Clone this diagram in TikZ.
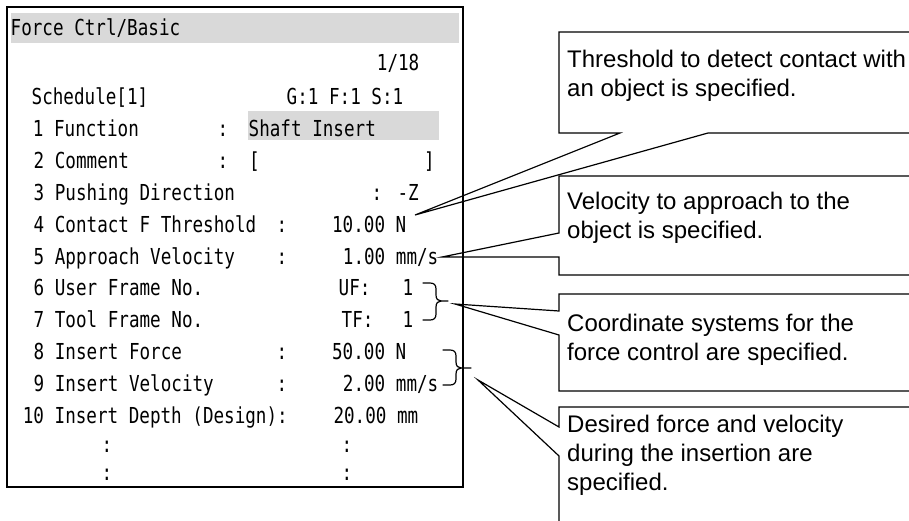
\documentclass[tikz,border=0pt]{standalone}
\usepackage{fontspec}
\newfontfamily\scrfont{DejaVu Sans Mono}[FakeStretch=0.80]
\newfontfamily\notefont{Liberation Sans}
\definecolor{hdrgray}{RGB}{217,217,217}

\begin{document}
\begin{tikzpicture}[x=1pt,y=-1pt,
  scr/.style={inner sep=0pt,anchor=base west,font=\scrfont\fontsize{22}{26}\selectfont},
  scrR/.style={scr,anchor=base east},
  scrC/.style={scr,anchor=base},
  note/.style={inner sep=0pt,anchor=base west,font=\notefont\fontsize{24}{29}\selectfont},
  callout/.style={line width=1.2pt,line join=miter},
  brace/.style={line width=1.2pt,line cap=round}]
\useasboundingbox (0,0) rectangle (909,521);
\clip (0,0) rectangle (909,521);

% ---------- teach pendant screen ----------
\fill[hdrgray] (11,13) rectangle (459,43);
\fill[hdrgray] (248,111) rectangle (439,140);
\draw[line width=1.4pt] (7,7) rectangle (463,487);

\node[scr] (title) at (10.5,36) {Force Ctrl/Basic};
\node[scrR] (page) at (419.5,71) {1/18};

\node[scr] (sched) at (31.5,105) {Schedule[1]};
\node[scr] (gfs) at (286.5,105) {G:1 F:1 S:1};

\node[scr] (l1) at (32.7,136.8) {1 Function};
\node[scrC] (c1) at (223,136.8) {:};
\node[scr] (v1) at (248.5,136.8) {Shaft Insert};

\node[scr] (l2) at (33.5,168.6) {2 Comment};
\node[scrC] (c2) at (223,168.6) {:};
\node[scr] (v2a) at (249,168.6) {[};
\node[scrR] (v2b) at (435,168.6) {]};

\node[scr] (l3) at (33.5,200.4) {3 Pushing Direction};
\node[scrC] (c3) at (377,200.4) {:};
\node[scrR] (v3) at (419,200.4) {-Z};

\node[scr] (l4) at (33.5,232.2) {4 Contact F Threshold};
\node[scrC] (c4) at (282,232.2) {:};
\node[scrR] (v4) at (406.5,232.2) {10.00 N};

\node[scr] (l5) at (33.5,264) {5 Approach Velocity};
\node[scrC] (c5) at (282,264) {:};
\node[scrR] (v5) at (438.5,264) {1.00 mm/s};

\node[scr] (l6) at (33.5,295.8) {6 User Frame No.};
\node[scr] (u6) at (338.5,295.8) {UF:};
\node[scrC] (v6) at (408,295.8) {1};

\node[scr] (l7) at (33.5,327.6) {7 Tool Frame No.};
\node[scr] (u7) at (341.5,327.6) {TF:};
\node[scrC] (v7) at (408,327.6) {1};

\node[scr] (l8) at (33.5,359.4) {8 Insert Force};
\node[scrC] (c8) at (282,359.4) {:};
\node[scrR] (v8) at (406.5,359.4) {50.00 N};

\node[scr] (l9) at (33.5,391.2) {9 Insert Velocity};
\node[scrC] (c9) at (282,391.2) {:};
\node[scrR] (v9) at (438.5,391.2) {2.00 mm/s};

\node[scr] (l10) at (22.7,423) {10 Insert Depth (Design):};
\node[scrR] (v10) at (418.5,423) {20.00 mm};

\node[scr,anchor=center] (d1) at (107,447) {:};
\node[scr,anchor=center] (d2) at (347,447) {:};
\node[scr,anchor=center] (d3) at (107,475) {:};
\node[scr,anchor=center] (d4) at (347,475) {:};

% ---------- braces grouping rows ----------
\draw[brace] (423,283) -- (430,283) .. controls (434,283) and (436,285) .. (436,289)
  -- (436,295) .. controls (436,299) and (438,301) .. (441,301) -- (448,301);
\draw[brace] (441,301) .. controls (438,301) and (436,303) .. (436,307)
  -- (436,314) .. controls (436,318) and (434,320) .. (430,320) -- (423,320);

\draw[brace] (443,350) -- (450,350) .. controls (454,350) and (456,352) .. (456,356)
  -- (456,362) .. controls (456,366) and (458,368) .. (461,368) -- (471,368);
\draw[brace] (461,368) .. controls (458,368) and (456,370) .. (456,374)
  -- (456,379) .. controls (456,383) and (454,385) .. (450,385) -- (443,385);

% ---------- callout balloons ----------
\coordinate (tip1) at (415,215);
\coordinate (tip2) at (442,257);
\coordinate (tip3) at (455,304);
\coordinate (tip4) at (478,380);

\draw[callout] (559,32) -- (920,32) -- (920,133) -- (708,133) -- (tip1)
  -- (620,133) -- (559,133) -- cycle;
\draw[callout] (559,176) -- (920,176) -- (920,275) -- (559,275) -- (559,257)
  -- (tip2) -- (559,233) -- cycle;
\draw[callout] (559,294) -- (920,294) -- (920,391) -- (559,391) -- (559,335)
  -- (tip3) -- (559,311) -- cycle;
\draw[callout] (559,407) -- (920,407) -- (920,530) -- (559,530) -- (559,456)
  -- (tip4) -- (559,427) -- cycle;

\node[note] (n1a) at (567,68) {Threshold to detect contact with};
\node[note] (n1b) at (567,97) {an object is specified.};
\node[note] (n2a) at (567,210) {Velocity to approach to the};
\node[note] (n2b) at (567,239) {object is specified.};
\node[note] (n3a) at (567,331) {Coordinate systems for the};
\node[note] (n3b) at (567,360) {force control are specified.};
\node[note] (n4a) at (567,432) {Desired force and velocity};
\node[note] (n4b) at (567,461) {during the insertion are};
\node[note] (n4c) at (567,490) {specified.};
\end{tikzpicture}
\end{document}
